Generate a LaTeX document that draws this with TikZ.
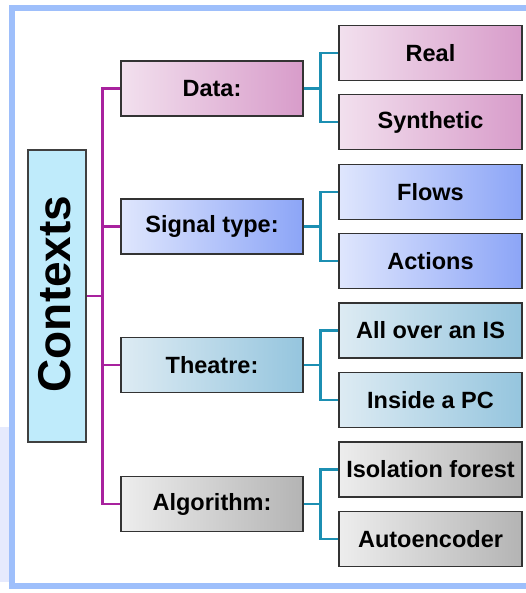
\documentclass[tikz,border=0pt]{standalone}
\usepackage{fontspec}
\setmainfont{Liberation Sans}
\definecolor{framecol}{HTML}{9EBFFB}
\definecolor{shadecol}{HTML}{E6EAFD}
\definecolor{ctxcol}{HTML}{BFEBFB}
\definecolor{trunkcol}{HTML}{A8229E}
\definecolor{branchcol}{HTML}{1C8FB2}
\definecolor{pinkA}{HTML}{F2E0EE}
\definecolor{pinkB}{HTML}{D89CCA}
\definecolor{blueA}{HTML}{DFE6FD}
\definecolor{blueB}{HTML}{8CA5F7}
\definecolor{tealA}{HTML}{DDEBF3}
\definecolor{tealB}{HTML}{95C5DE}
\definecolor{greyA}{HTML}{EDEDED}
\definecolor{greyB}{HTML}{B4B4B4}
\tikzset{
    box/.style={draw=black!80,line width=1.1pt,font=\fontsize{23.5}{26}\selectfont\bfseries,
        minimum height=55pt,inner sep=0pt},
    catbox/.style={box,minimum width=182pt},
    leafbox/.style={box,minimum width=183pt},
    pinkbox/.style={left color=pinkA,right color=pinkB},
    bluebox/.style={left color=blueA,right color=blueB},
    tealbox/.style={left color=tealA,right color=tealB},
    greybox/.style={left color=greyA,right color=greyB},
    trunk/.style={trunkcol,line width=2.5pt},
    branch/.style={branchcol,line width=2.5pt}
}
\begin{document}
\begin{tikzpicture}[x=1pt,y=-1pt]
    \useasboundingbox (0,0) rectangle (526,593);
    % frame and its shadow
    \fill[shadecol] (0,427) rectangle (9,582);
    \draw[framecol,line width=6pt] (11.5,8) rectangle (540,585.5);
    % root
    \node[draw=black!75,line width=1.1pt,fill=ctxcol,minimum width=58pt,minimum height=292pt]
        (ctx) at (57,296) {};
    \node[rotate=90,font=\fontsize{46}{50}\selectfont\bfseries] (ctxtext) at (55,294) {Contexts};
    % categories
    \node[catbox,pinkbox] (data)   at (212,88.5) {Data:};
    \node[catbox,bluebox] (signal) at (212,226.5) {Signal type:};
    \node[catbox,tealbox] (theatre) at (212,365) {Theatre:};
    \node[catbox,greybox] (algo)   at (212,504) {Algorithm:};
    % leaves
    \node[leafbox,pinkbox] (real)  at (430.5,53) {Real};
    \node[leafbox,pinkbox] (synth) at (430.5,122) {Synthetic};
    \node[leafbox,bluebox] (flows) at (430.5,192) {Flows};
    \node[leafbox,bluebox] (actions) at (430.5,261) {Actions};
    \node[leafbox,tealbox] (allover) at (430.5,330.5) {All over an IS};
    \node[leafbox,tealbox] (insidepc) at (430.5,400) {Inside a PC};
    \node[leafbox,greybox] (isoforest) at (430.5,469.5) {Isolation forest};
    \node[leafbox,greybox] (autoenc) at (430.5,539) {Autoencoder};
    % connectors
    \draw[trunk] (ctx.east) -- ++(16,0) coordinate (hub);
    \foreach \c in {data,signal,theatre,algo}
        \draw[trunk] (hub) |- (\c.west);
    \foreach \c/\a/\b in {data/real/synth,signal/flows/actions,theatre/allover/insidepc,algo/isoforest/autoenc}{
        \draw[branch] (\c.east) -- ++(17,0) coordinate (\c hub);
        \draw[branch] (\c hub) |- (\a.west);
        \draw[branch] (\c hub) |- (\b.west);
    }
\end{tikzpicture}
\end{document}
